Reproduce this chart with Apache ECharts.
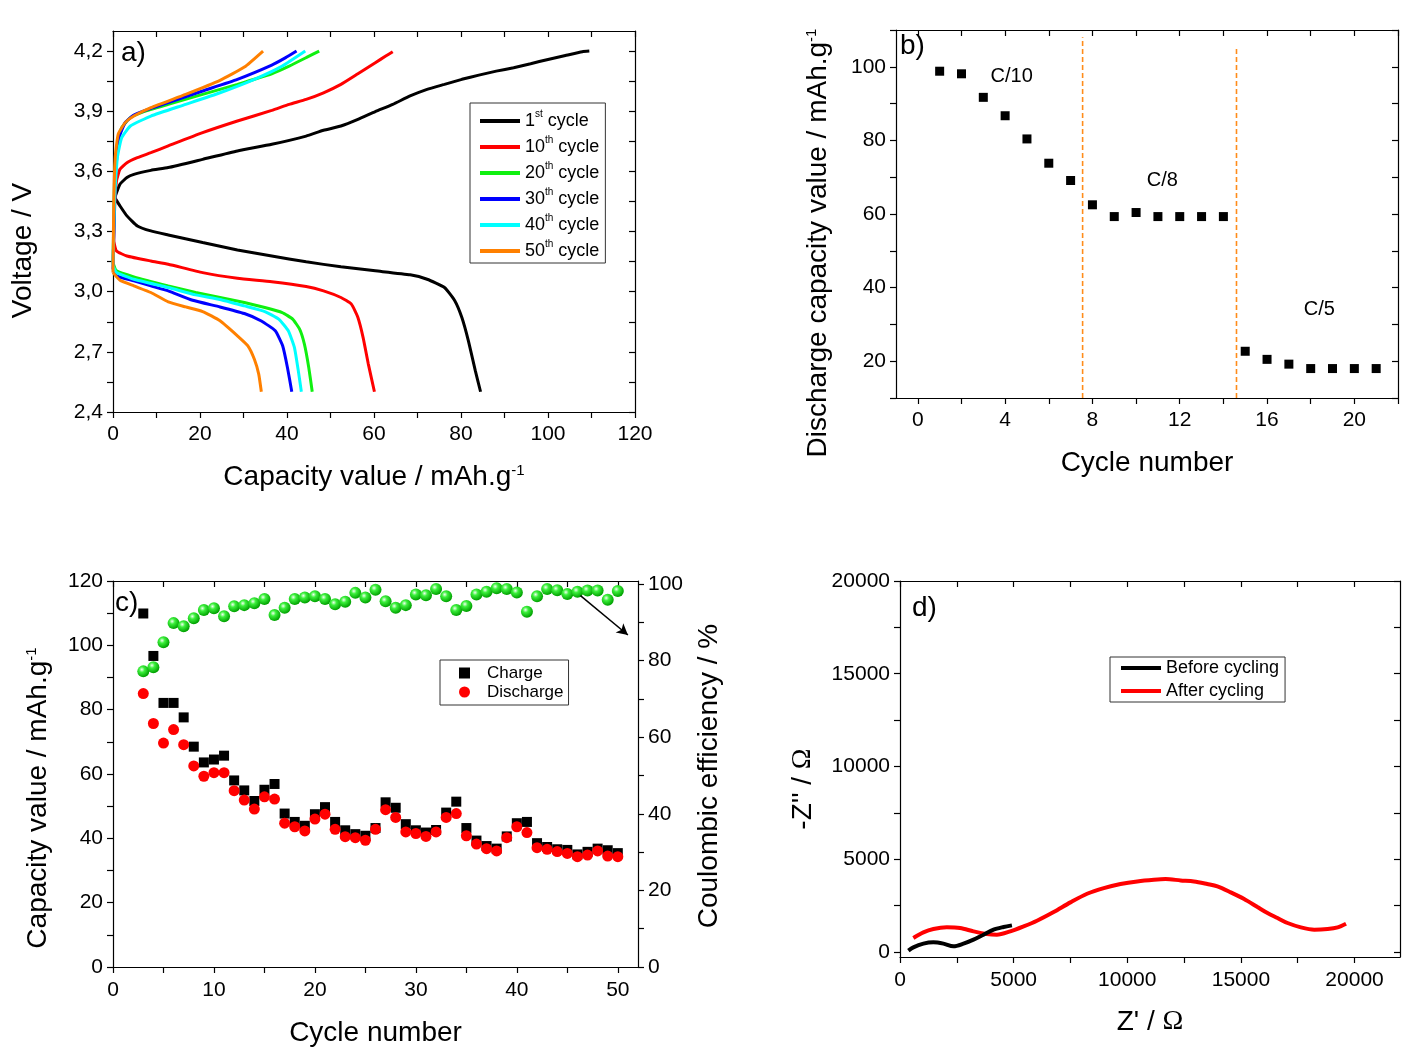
<!DOCTYPE html>
<html>
<head>
<meta charset="utf-8">
<script src="https://cdn.jsdelivr.net/npm/echarts@6/dist/echarts.min.js"></script>
<style>
html, body { margin: 0; padding: 0; background: #fff; }
#chart { width: 1402px; height: 1047px; }
</style>
</head>
<body>
<div id="chart"></div>
<script>
// ---- a) charge / discharge profiles, [capacity, voltage]
const cycleNames = ['1st cycle', '10th cycle', '20th cycle', '30th cycle', '40th cycle', '50th cycle'];
const cycleColors = ['#000000', '#ff0000', '#10f010', '#0000ff', '#00ffff', '#ff8000'];
const charge1 = [[0.4,3.469],[1.6,3.536],[3.2,3.569],[4.8,3.585],[8.7,3.605],[12.7,3.619],[20.6,3.66],[28.6,3.702],[36.5,3.735],[44.4,3.776],[48.4,3.805],[52.4,3.826],[56.3,3.859],[60.3,3.898],[64.3,3.934],[68.3,3.976],[72.2,4.009],[76.2,4.034],[80.2,4.059],[84.1,4.08],[88.1,4.1],[92.1,4.117],[96,4.137],[100,4.158],[104,4.178],[107.9,4.197],[109.5,4.2]];
const discharge1 = [[0.4,3.469],[1.6,3.428],[3.2,3.378],[5.6,3.328],[8.7,3.303],[12.7,3.283],[20.6,3.245],[28.6,3.208],[36.5,3.178],[44.4,3.149],[52.4,3.124],[60.3,3.104],[68.3,3.084],[72.2,3.062],[76.2,3.021],[78.6,2.954],[80.2,2.871],[81.7,2.755],[83.3,2.605],[84.5,2.501]];
const charge10 = [[0.16,3.253],[0.4,3.436],[0.8,3.552],[1.6,3.61],[3.2,3.643],[5.6,3.668],[8.7,3.693],[12.7,3.727],[20.6,3.793],[28.6,3.851],[36.5,3.904],[40.5,3.934],[44.4,3.959],[48.4,3.992],[52.4,4.034],[56.3,4.087],[60.3,4.142],[62.7,4.175],[64.3,4.197]];
const discharge10 = [[0.16,3.253],[0.8,3.203],[3.2,3.178],[8.7,3.153],[12.7,3.137],[20.6,3.095],[28.6,3.067],[36.5,3.05],[44.4,3.026],[48.4,3.004],[52.4,2.971],[54.8,2.938],[56.3,2.871],[57.5,2.771],[58.7,2.639],[60.1,2.501]];
const charge20 = [[0,3.145],[0.16,3.336],[0.4,3.585],[1,3.735],[2,3.818],[4,3.868],[7.1,3.898],[12.7,3.934],[20.6,3.984],[28.6,4.034],[36.5,4.087],[40.5,4.125],[44.4,4.167],[47.4,4.2]];
const discharge20 = [[0,3.145],[0.8,3.104],[4.8,3.074],[12.7,3.029],[19,2.996],[24.6,2.971],[30.2,2.946],[34.9,2.921],[38.9,2.896],[41.3,2.863],[42.9,2.813],[44,2.738],[45,2.622],[45.8,2.501]];
const charge30 = [[0,3.112],[0.24,3.336],[0.6,3.585],[1.4,3.768],[2.8,3.843],[4.8,3.881],[8.7,3.914],[12.7,3.943],[20.6,4.001],[28.6,4.059],[36.5,4.13],[39.7,4.167],[42.2,4.2]];
const discharge30 = [[0,3.112],[0.8,3.079],[4.8,3.054],[8.7,3.029],[12.7,3.004],[18.3,2.957],[24.6,2.924],[30.2,2.891],[34.1,2.854],[37.3,2.805],[39,2.73],[40.1,2.622],[41.1,2.501]];
const charge40 = [[0,3.129],[0.3,3.419],[1,3.668],[2,3.768],[4,3.826],[8.7,3.876],[16.7,3.934],[24.6,3.992],[32.5,4.059],[38.9,4.125],[44.2,4.2]];
const discharge40 = [[0,3.129],[0.8,3.096],[4.8,3.062],[12.7,3.021],[19,2.984],[24.6,2.961],[30.2,2.929],[34.9,2.901],[38.1,2.863],[40.3,2.805],[41.7,2.722],[42.6,2.605],[43.3,2.501]];
const charge50 = [[0,3.095],[0.16,3.419],[0.5,3.668],[1.2,3.785],[2.8,3.843],[4.8,3.876],[8.7,3.918],[16.7,3.984],[24.6,4.054],[30.2,4.12],[34.5,4.2]];
const discharge50 = [[0,3.095],[1.6,3.057],[4.8,3.029],[8.7,2.996],[12.7,2.949],[16.7,2.924],[20.6,2.901],[24.6,2.855],[28.6,2.78],[31,2.73],[32.5,2.663],[33.5,2.589],[34.1,2.501]];
const aCharge = [charge1, charge10, charge20, charge30, charge40, charge50];
const aDischarge = [discharge1, discharge10, discharge20, discharge30, discharge40, discharge50];

// ---- b) rate capability
const cycleB = [1,2,3,4,5,6,7,8,9,10,11,12,13,14,15,16,17,18,19,20,21];
const dischargeB = [98.8,98.1,91.7,86.7,80.4,73.8,69.1,62.5,59.3,60.4,59.3,59.3,59.3,59.3,22.7,20.5,19.2,18.0,18.0,18.0,18.0];
const rateSwitchX = [7.55, 14.6];
const rateSwitchTop = [108, 105];
const rateNames = ['C/10', 'C/8', 'C/5'];
const rateNameX = [4.3, 11.2, 18.4];
const rateNameY = [97.3, 69.2, 34];

// ---- c) cycling
const cycleC = [3,4,5,6,7,8,9,10,11,12,13,14,15,16,17,18,19,20,21,22,23,24,25,26,27,28,29,30,31,32,33,34,35,36,37,38,39,40,41,42,43,44,45,46,47,48,49,50];
const chargeC = [109.9,96.7,82.1,82.1,77.6,68.5,63.6,64.5,65.7,58.0,54.9,51.6,55.1,56.9,47.7,45.1,43.9,47.5,49.7,45.1,42.5,41.3,40.8,43.2,51.2,49.5,44.4,42.5,41.8,42.6,48.0,51.4,43.2,39.3,37.6,36.8,40.6,44.7,45.1,38.5,37.3,36.6,36.4,35.0,35.8,36.8,36.3,35.4];
const dischargeC = [85.0,75.7,69.6,73.8,69.1,62.5,59.3,60.4,60.4,54.8,51.9,49.1,52.9,52.2,44.7,43.6,42.3,46.0,47.5,42.8,40.5,40.2,39.4,42.8,48.9,46.5,42.0,41.5,40.6,42.0,46.5,47.7,40.8,38.2,36.8,36.1,40.2,43.6,41.8,37.1,36.6,35.9,35.3,34.3,34.8,36.1,34.5,34.3];
const effC = [77.2,78.3,84.8,89.8,89.0,91.1,93.2,93.7,91.6,94.2,94.5,95.0,96.1,91.9,93.8,96.1,96.5,96.8,96.1,94.7,95.4,97.7,96.5,98.5,95.5,93.8,94.5,97.3,97.1,98.7,96.8,93.2,94.3,97.3,98.0,98.9,98.7,97.8,92.8,96.8,98.7,98.4,97.4,98.0,98.3,98.3,95.9,98.2];
const arrowFrom = [46.3, 97];
const arrowTo = [51, 86.7];

// ---- d) impedance, [Z', -Z'']
const zBefore = [[368,72],[588,251],[1029,449],[1470,521],[1911,449],[2352,305],[2793,449],[3234,664],[3675,933],[4116,1203],[4557,1346],[4925,1436]];
const zAfter = [[588,754],[1029,1059],[1470,1239],[2058,1328],[2646,1292],[3234,1113],[3822,969],[4263,933],[4851,1113],[5439,1382],[6027,1687],[6762,2154],[7497,2675],[8232,3141],[8967,3446],[9702,3662],[10437,3805],[11172,3895],[11686,3931],[12348,3859],[12936,3805],[13524,3662],[13965,3536],[14553,3213],[15141,2854],[15729,2423],[16170,2100],[16611,1831],[17052,1562],[17640,1328],[18228,1203],[18816,1239],[19257,1328],[19625,1526]];

// ---- ticks and tick labels
const aXTicks = [0,10,20,30,40,50,60,70,80,90,100,110,120];
const aXLabels = [0,20,40,60,80,100,120];
const aYTicks = [2.4,2.55,2.7,2.85,3.0,3.15,3.3,3.45,3.6,3.75,3.9,4.05,4.2];
const aYLabels = [2.4,2.7,3.0,3.3,3.6,3.9,4.2];
const bXTicks = [0,2,4,6,8,10,12,14,16,18,20,22];
const bXLabels = [0,4,8,12,16,20];
const bYTicks = [10,20,30,40,50,60,70,80,90,100,110];
const bYLabels = [20,40,60,80,100];
const cXTicks = [0,5,10,15,20,25,30,35,40,45,50];
const cXLabels = [0,10,20,30,40,50];
const cYTicks = [0,10,20,30,40,50,60,70,80,90,100,110,120];
const cYLabels = [0,20,40,60,80,100,120];
const cRTicks = [0,10,20,30,40,50,60,70,80,90,100];
const cRLabels = [0,20,40,60,80,100];
const dXTicks = [0,2500,5000,7500,10000,12500,15000,17500,20000];
const dXLabels = [0,5000,10000,15000,20000];
const dYTicks = [0,2500,5000,7500,10000,12500,15000,17500,20000];
const dYLabels = [0,5000,10000,15000,20000];

const FONT = '"Liberation Sans", Arial, sans-serif';
const nameRich = {
    t: { fontSize: 28, fontFamily: FONT, color: '#000' },
    s: { fontSize: 15, fontFamily: FONT, color: '#000', verticalAlign: 'top' },
    o: { fontSize: 28, fontFamily: '"Liberation Serif", serif', color: '#000' },
};

function axis(gridIndex, min, max, ticks, labels, fmt, margin) {
    return {
        type: 'value',
        gridIndex: gridIndex,
        min: min,
        max: max,
        axisLine: { show: true, onZero: false, lineStyle: { color: '#000', width: 1.2 } },
        axisTick: { show: true, inside: false, length: 6, customValues: ticks, lineStyle: { color: '#000', width: 1.2 } },
        axisLabel: {
            show: true,
            customValues: labels,
            formatter: fmt || ((v) => String(v)),
            color: '#000',
            fontSize: 21,
            fontFamily: FONT,
            margin: margin,
        },
        splitLine: { show: false },
        minorTick: { show: false },
    };
}
function mirror(gridIndex, min, max, ticks, position) {
    const ax = axis(gridIndex, min, max, ticks, [], null, 8);
    ax.position = position;
    ax.axisTick.inside = true;
    ax.axisLabel.show = false;
    return ax;
}
function named(ax, position, name, gap, rotate, shift) {
    ax.position = position;
    ax.name = name;
    ax.nameLocation = 'middle';
    ax.nameGap = gap;
    ax.nameMoveOverlap = false;
    if (rotate) {
        ax.nameRotate = 90;
    }
    ax.nameTextStyle = { fontSize: 28, fontFamily: FONT, color: '#000', rich: nameRich, padding: shift ? [0, shift, 0, 0] : 0 };
    return ax;
}
const comma = (v) => v.toFixed(1).replace('.', ',');
const capName = '{t|Capacity value / mAh.g}{s|-1}';

const series = [];
// a)
cycleNames.forEach((name, i) => {
    [aCharge[i], aDischarge[i]].forEach((curve) => {
        series.push({
            type: 'line',
            name: name,
            xAxisIndex: 0,
            yAxisIndex: 0,
            data: curve,
            symbol: 'none',
            showSymbol: false,
            smooth: 0.15,
            lineStyle: { color: cycleColors[i], width: 3 },
            itemStyle: { color: cycleColors[i] },
        });
    });
});
// b)
series.push({
    type: 'scatter',
    name: 'rate',
    xAxisIndex: 2,
    yAxisIndex: 2,
    symbol: 'rect',
    symbolSize: 9,
    itemStyle: { color: '#000', opacity: 1 },
    data: cycleB.map((c, i) => [c, dischargeB[i]]),
});
rateSwitchX.forEach((x, i) => {
    series.push({
        type: 'line',
        name: 'switch' + i,
        xAxisIndex: 2,
        yAxisIndex: 2,
        symbol: 'none',
        data: [[x, 10], [x, rateSwitchTop[i]]],
        lineStyle: { color: '#ff8c1a', width: 1.6, type: [5, 3] },
    });
});
series.push({
    type: 'scatter',
    name: 'rateNames',
    xAxisIndex: 2,
    yAxisIndex: 2,
    symbolSize: 1,
    itemStyle: { color: 'rgba(0,0,0,0)' },
    data: rateNameX.map((x, i) => [x, rateNameY[i]]),
    label: {
        show: true,
        position: 'inside',
        formatter: (p) => rateNames[p.dataIndex],
        color: '#000',
        opacity: 1,
        fontSize: 20,
        fontFamily: FONT,
    },
});
// c)
series.push({
    type: 'scatter',
    name: 'Coulombic efficiency',
    xAxisIndex: 4,
    yAxisIndex: 5,
    symbol: 'circle',
    symbolSize: 12,
    itemStyle: {
        opacity: 1,
        color: new echarts.graphic.RadialGradient(0.38, 0.35, 0.65, [
            { offset: 0, color: '#f0fff0' },
            { offset: 0.35, color: '#3cf03c' },
            { offset: 1, color: '#00a000' },
        ]),
    },
    data: cycleC.map((c, i) => [c, effC[i]]),
    markLine: {
        silent: true,
        symbol: ['none', 'arrow'],
        symbolSize: [9, 11],
        label: { show: false },
        lineStyle: { color: '#000', width: 1.5, type: 'solid' },
        data: [[{ coord: arrowFrom }, { coord: arrowTo }]],
    },
});
series.push({
    type: 'scatter',
    name: 'Charge',
    xAxisIndex: 4,
    yAxisIndex: 4,
    symbol: 'rect',
    symbolSize: 10,
    itemStyle: { color: '#000', opacity: 1 },
    data: cycleC.map((c, i) => [c, chargeC[i]]),
});
series.push({
    type: 'scatter',
    name: 'Discharge',
    xAxisIndex: 4,
    yAxisIndex: 4,
    symbol: 'circle',
    symbolSize: 11,
    itemStyle: { color: '#ff0000', opacity: 1 },
    data: cycleC.map((c, i) => [c, dischargeC[i]]),
});
// d)
series.push({
    type: 'line',
    name: 'After cycling',
    xAxisIndex: 6,
    yAxisIndex: 6,
    symbol: 'none',
    smooth: 0.3,
    data: zAfter,
    lineStyle: { color: '#ff0000', width: 4 },
    itemStyle: { color: '#ff0000' },
});
series.push({
    type: 'line',
    name: 'Before cycling',
    xAxisIndex: 6,
    yAxisIndex: 6,
    symbol: 'none',
    smooth: 0.3,
    data: zBefore,
    lineStyle: { color: '#000', width: 4 },
    itemStyle: { color: '#000' },
});

const chart = echarts.init(document.getElementById('chart'), null, { renderer: 'canvas' });
const option = {
    animation: false,
    backgroundColor: '#fff',
    grid: [
        { left: 113, top: 31, width: 522, height: 381, outerBoundsMode: 'none', show: false },
        { left: 896, top: 30, width: 502, height: 368, outerBoundsMode: 'none', show: false },
        { left: 113, top: 581, width: 525, height: 386, outerBoundsMode: 'none', show: false },
        { left: 900, top: 581, width: 500, height: 376, outerBoundsMode: 'none', show: false },
    ],
    xAxis: [
        named(axis(0, 0, 120, aXTicks, aXLabels, null, 12), 'bottom', capName, 51, false, 0),
        mirror(0, 0, 120, aXTicks, 'top'),
        named(axis(1, -1, 22, bXTicks, bXLabels, null, 12), 'bottom', '{t|Cycle number}', 51, false, 0),
        mirror(1, -1, 22, bXTicks, 'top'),
        named(axis(2, 0, 52, cXTicks, cXLabels, null, 13), 'bottom', '{t|Cycle number}', 52, false, 0),
        mirror(2, 0, 52, cXTicks, 'top'),
        named(axis(3, 0, 22000, dXTicks, dXLabels, null, 13), 'bottom', "{t|Z' / }{o|Ω}", 51, false, 0),
        mirror(3, 0, 22000, dXTicks, 'top'),
    ],
    yAxis: [
        named(axis(0, 2.4, 4.3, aYTicks, aYLabels, comma, 10), 'left', '{t|Voltage / V}', 76, true, 58),
        mirror(0, 2.4, 4.3, aYTicks, 'right'),
        named(axis(1, 10, 110, bYTicks, bYLabels, null, 10), 'left', '{t|Discharge capacity value / mAh.g}{s|-1}', 64, true, 58),
        mirror(1, 10, 110, bYTicks, 'right'),
        named(axis(2, 0, 120, cYTicks, cYLabels, null, 10), 'left', capName, 61, true, 48),
        named(axis(2, 0, 100.8, cRTicks, cRLabels, null, 10), 'right', '{t|Coulombic efficiency / %}', 57, true, 4),
        named(axis(3, -270, 20000, dYTicks, dYLabels, null, 10), 'left', "{t|-Z'' / }{o|Ω}", 83, true, 40),
        mirror(3, -270, 20000, dYTicks, 'right'),
    ],
    legend: [
        {
            data: cycleNames,
            left: 470,
            top: 103,
            orient: 'vertical',
            selectedMode: false,
            icon: 'rect',
            itemWidth: 40,
            itemHeight: 4,
            itemGap: 5,
            padding: [6, 6, 3, 10],
            borderColor: '#333',
            borderWidth: 1,
            formatter: (name) => {
                const m = name.match(/^(\d+)(st|th) (.*)$/);
                return '{n|' + m[1] + '}{s|' + m[2] + '}{n| ' + m[3] + '}';
            },
            textStyle: {
                color: '#000',
                fontFamily: FONT,
                fontSize: 18,
                rich: {
                    n: { fontSize: 18, fontFamily: FONT, color: '#000', lineHeight: 24 },
                    s: { fontSize: 10, fontFamily: FONT, color: '#000', verticalAlign: 'top', lineHeight: 12 },
                },
            },
        },
        {
            data: ['Charge', 'Discharge'],
            left: 440,
            top: 660,
            orient: 'vertical',
            selectedMode: false,
            itemWidth: 11,
            itemHeight: 11,
            itemGap: 1,
            padding: [4, 5, 4, 19],
            borderColor: '#333',
            borderWidth: 1,
            textStyle: { color: '#000', fontFamily: FONT, fontSize: 17, lineHeight: 18, padding: [0, 0, 0, 12] },
        },
        {
            data: ['Before cycling', 'After cycling'],
            left: 1110,
            top: 657,
            orient: 'vertical',
            selectedMode: false,
            icon: 'rect',
            itemWidth: 40,
            itemHeight: 4,
            itemGap: 3,
            padding: [1, 6, 1, 11],
            borderColor: '#333',
            borderWidth: 1,
            textStyle: { color: '#000', fontFamily: FONT, fontSize: 18, lineHeight: 20 },
        },
    ],
    graphic: [
        { type: 'text', left: 121, top: 39, style: { text: 'a)', fontSize: 28, fontFamily: FONT, fill: '#000' } },
        { type: 'text', left: 900, top: 32, style: { text: 'b)', fontSize: 28, fontFamily: FONT, fill: '#000' } },
        { type: 'text', left: 115, top: 589, style: { text: 'c)', fontSize: 28, fontFamily: FONT, fill: '#000' } },
        { type: 'text', left: 912, top: 594, style: { text: 'd)', fontSize: 28, fontFamily: FONT, fill: '#000' } },
    ],
    series: series,
};
chart.setOption(option);
</script>
</body>
</html>
